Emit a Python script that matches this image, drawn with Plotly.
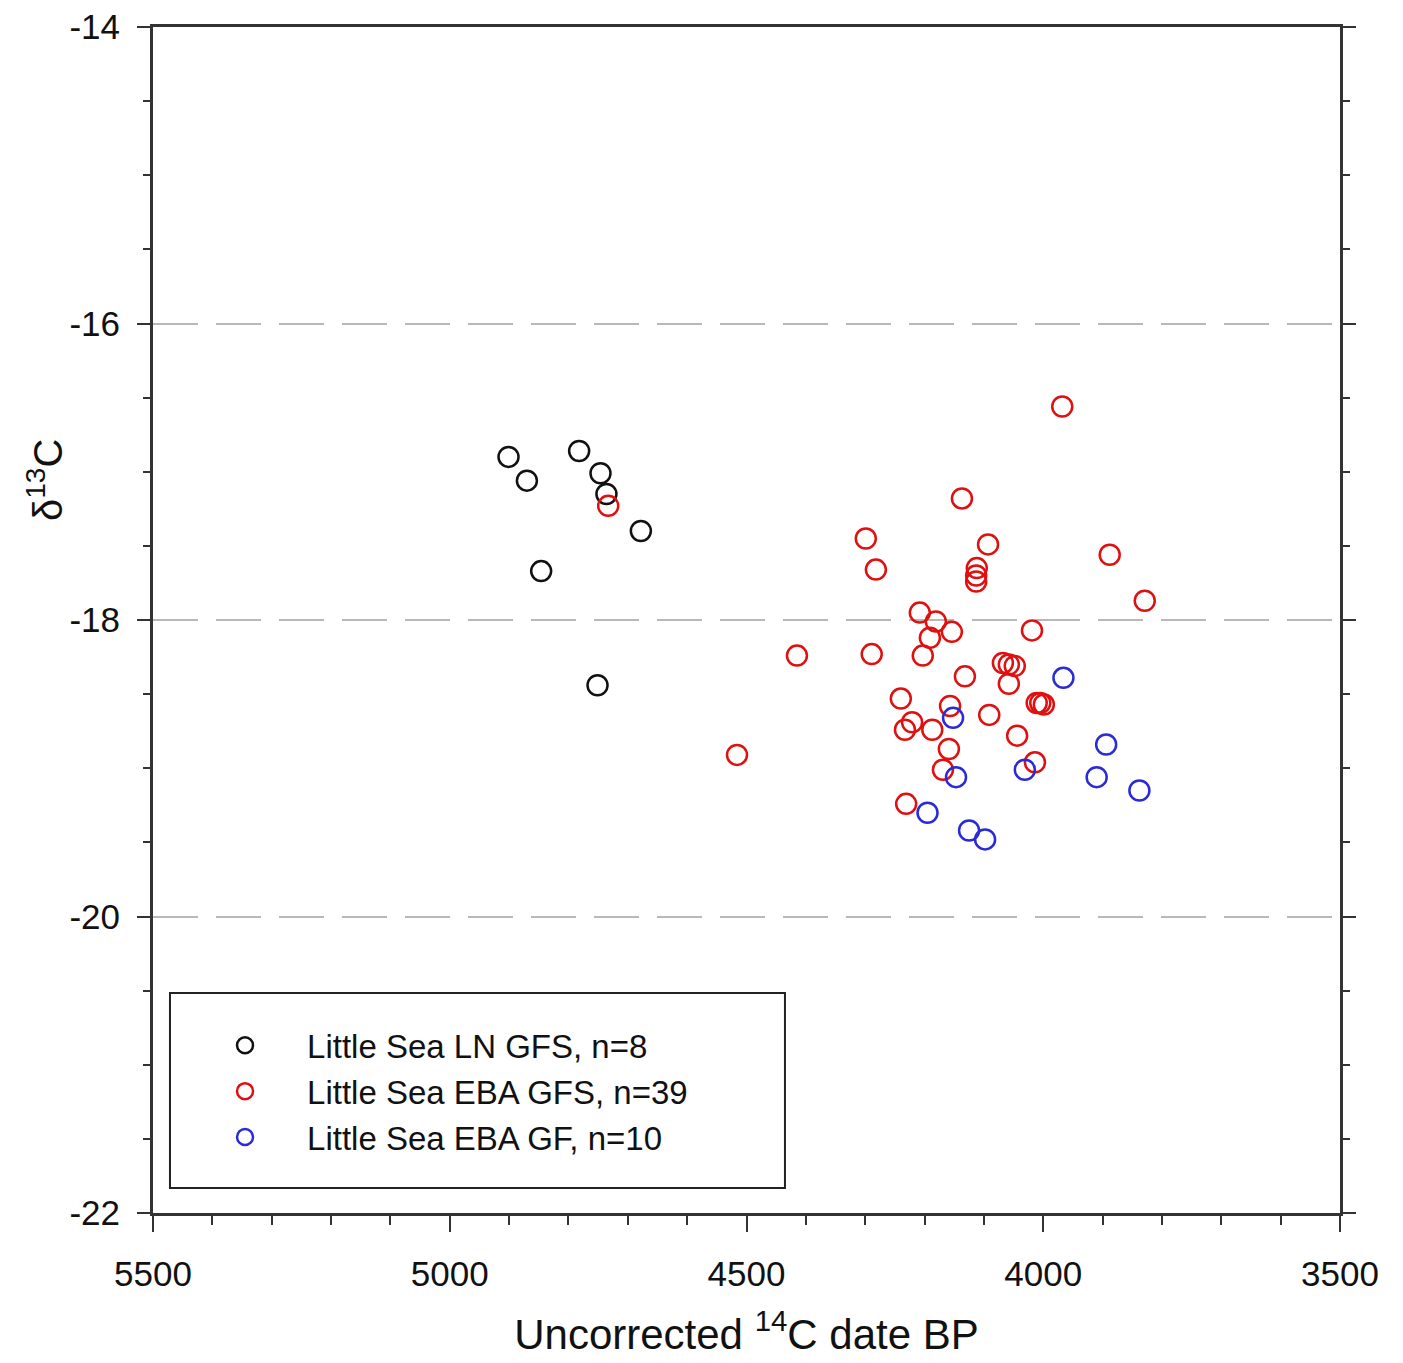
import plotly.graph_objects as go

# Little Sea LN GFS (black)
ln_gfs_date = [4901, 4870, 4782, 4746, 4736, 4678, 4846, 4751]
ln_gfs_d13c = [-16.90, -17.06, -16.86, -17.01, -17.15, -17.40, -17.67, -18.44]

# Little Sea EBA GFS (red)
eba_gfs_date = [3968, 4137, 4733, 4299, 4093, 3888, 4282, 4112, 4113, 3829,
                4208, 4181, 4154, 4191, 4019, 4415, 4289, 4203, 4068, 4048,
                4132, 4058, 4240, 4157, 4011, 3999, 4091, 4221, 4233, 4187,
                4044, 4159, 4516, 4169, 4014, 4231, 4005, 4113, 4058]
eba_gfs_d13c = [-16.56, -17.18, -17.23, -17.45, -17.49, -17.56, -17.66, -17.65, -17.74, -17.87,
                -17.95, -18.01, -18.08, -18.12, -18.07, -18.24, -18.23, -18.24, -18.29, -18.31,
                -18.38, -18.43, -18.53, -18.58, -18.56, -18.57, -18.64, -18.69, -18.74, -18.74,
                -18.78, -18.87, -18.91, -19.01, -18.96, -19.24, -18.56, -17.70, -18.30]

# Little Sea EBA GF (blue)
eba_gf_date = [3966, 4152, 3894, 4147, 4031, 3910, 3838, 4195, 4125, 4098]
eba_gf_d13c = [-18.39, -18.66, -18.84, -19.06, -19.01, -19.06, -19.15, -19.30, -19.42, -19.48]

names = ["Little Sea LN GFS, n=8", "Little Sea EBA GFS, n=39", "Little Sea EBA GF, n=10"]
colors = ["#111111", "#e01010", "#2a2ad8"]

x_ticks = [5500, 5000, 4500, 4000, 3500]
y_ticks = [-22, -20, -18, -16, -14]
y_ticklabels = ["-22", "-20", "-18", "-16", "-14"]

FONT = "Liberation Sans, Arial, sans-serif"

fig = go.Figure()
for xs, ys, nm, c in [(ln_gfs_date, ln_gfs_d13c, names[0], colors[0]),
                      (eba_gfs_date, eba_gfs_d13c, names[1], colors[1]),
                      (eba_gf_date, eba_gf_d13c, names[2], colors[2])]:
    fig.add_trace(go.Scatter(
        x=xs, y=ys, mode="markers", name=nm,
        marker=dict(symbol="circle-open", size=20, color=c, line=dict(width=2.5, color=c)),
    ))

# legend frame
fig.add_shape(type="rect", xref="paper", yref="paper",
              x0=0.0143, x1=0.5324, y0=0.0211, y1=0.1855,
              line=dict(color="#222222", width=2), fillcolor="rgba(0,0,0,0)", layer="above")

# y-axis title (placed above the axis centre, as in the reference)
fig.add_annotation(xref="paper", yref="paper", x=-0.091, y=0.618,
                   xanchor="center", yanchor="middle",
                   text="δ<sup>13</sup>C", textangle=-90, showarrow=False,
                   font=dict(family=FONT, size=40, color="#111111"))

fig.update_layout(
    width=1403, height=1363,
    margin=dict(l=153, r=63, t=27, b=150, autoexpand=False),
    paper_bgcolor="white", plot_bgcolor="white",
    font=dict(family=FONT, size=34, color="#111111"),
    showlegend=True,
    legend=dict(x=0.0253, y=0.165, xanchor="left", yanchor="top",
                bgcolor="rgba(0,0,0,0)", borderwidth=0,
                font=dict(family=FONT, size=33, color="#111111"),
                itemwidth=114, tracegroupgap=0, itemsizing="trace"),
    xaxis=dict(
        range=[5500, 3500], tickvals=x_ticks, automargin=False,
        ticks="outside", ticklen=16, tickwidth=2, tickcolor="#333333",
        minor=dict(dtick=100, ticks="outside", ticklen=9, tickwidth=2, tickcolor="#333333"),
        showline=True, linecolor="#333333", linewidth=3, mirror=True,
        showgrid=False, zeroline=False,
        tickfont=dict(family=FONT, size=35),
        ticklabelstandoff=12,
        title=dict(text="Uncorrected <sup>14</sup>C date BP", font=dict(family=FONT, size=42), standoff=28),
    ),
    yaxis=dict(
        range=[-22, -14], tickvals=y_ticks, ticktext=y_ticklabels, automargin=False,
        ticks="outside", ticklen=13, tickwidth=2, tickcolor="#333333",
        minor=dict(dtick=0.5, ticks="outside", ticklen=7, tickwidth=2, tickcolor="#333333", showgrid=False),
        showline=True, linecolor="#333333", linewidth=3, mirror="ticks",
        showgrid=True, gridcolor="#b8b8b8", gridwidth=1.5, griddash="45px,18px",
        zeroline=False,
        tickfont=dict(family=FONT, size=35),
        ticklabelstandoff=10,
    ),
)

fig.write_html("out.html")
